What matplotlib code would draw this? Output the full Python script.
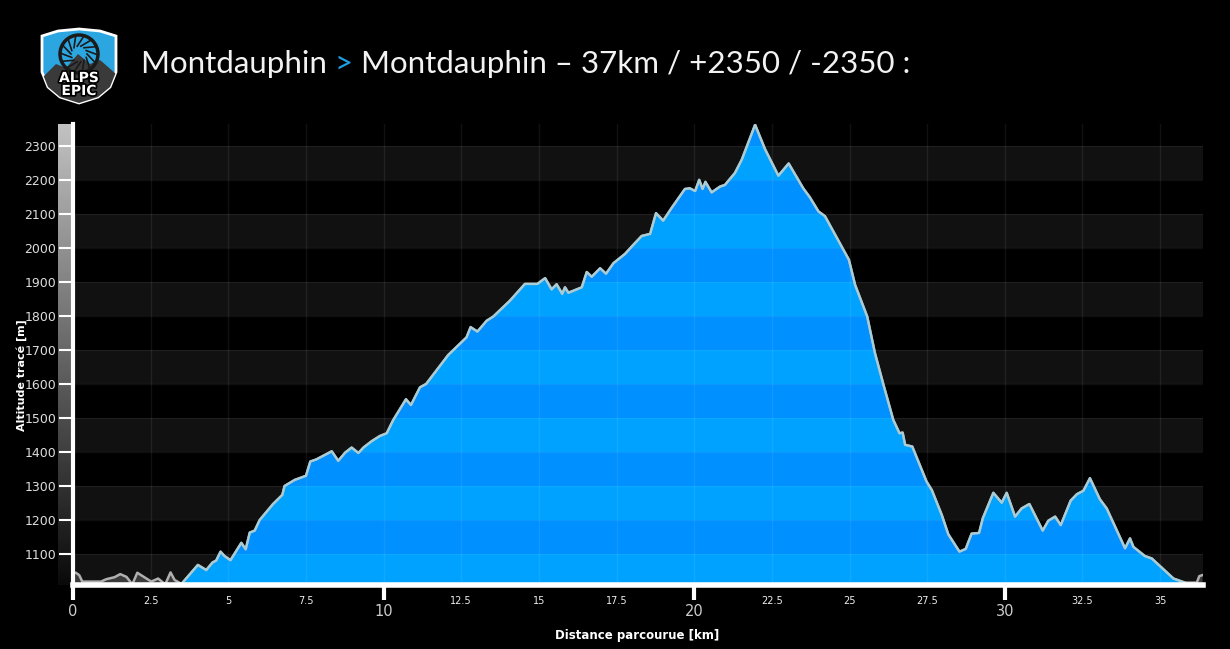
import numpy as np
import matplotlib
matplotlib.use("Agg")
import matplotlib.pyplot as plt
from matplotlib.patches import Polygon, Circle, Rectangle
import matplotlib.patheffects as pe

# profile (km, m)
dist = [0, 0.09, 0.2, 0.3, 0.9, 1.07, 1.34, 1.52, 1.72, 1.91, 2.07, 2.31, 2.52, 2.74,
        2.97, 3.14, 3.27, 3.49, 4.02, 4.29, 4.49, 4.61, 4.75, 4.88, 5.07, 5.42, 5.56,
        5.69, 5.85, 6.01, 6.44, 6.74, 6.81, 7.14, 7.5, 7.64, 7.83, 8.33, 8.54, 8.76,
        8.97, 9.19, 9.35, 9.62, 9.88, 10.1, 10.31, 10.72, 10.88, 11.17, 11.37, 12.08,
        12.67, 12.8, 13.02, 13.32, 13.53, 14.07, 14.55, 14.95, 15.2, 15.41, 15.57,
        15.75, 15.84, 15.95, 16.38, 16.54, 16.7, 16.97, 17.16, 17.4, 17.77, 18.04,
        18.31, 18.58, 18.77, 19.0, 19.27, 19.7, 19.86, 20.03, 20.16, 20.27, 20.36,
        20.56, 20.83, 20.99, 21.31, 21.53, 21.96, 22.28, 22.71, 23.04, 23.51, 23.72,
        24.0, 24.21, 24.98, 25.18, 25.57, 25.82, 26.11, 26.41, 26.61, 26.71, 26.79,
        27.02, 27.48, 27.65, 27.97, 28.18, 28.54, 28.74, 28.93, 29.17, 29.29, 29.63,
        29.9, 30.06, 30.33, 30.54, 30.79, 31.22, 31.4, 31.62, 31.8, 32.12, 32.32,
        32.53, 32.74, 33.06, 33.28, 33.87, 34.03, 34.14, 34.51, 34.73, 35.43, 35.8,
        36.18, 36.26, 36.36]
alt = [1045, 1045, 1038, 1019, 1019, 1026, 1032, 1041, 1033, 1011, 1045, 1031, 1019, 1028,
       1011, 1046, 1024, 1012, 1068, 1053, 1075, 1081, 1107, 1094, 1082, 1133, 1114,
       1163, 1169, 1200, 1247, 1274, 1300, 1318, 1330, 1372, 1378, 1402, 1374, 1398,
       1413, 1397, 1413, 1432, 1447, 1455, 1494, 1555, 1538, 1590, 1600, 1685,
       1737, 1767, 1754, 1786, 1798, 1845, 1894, 1894, 1911, 1878, 1893,
       1865, 1884, 1868, 1884, 1929, 1915, 1940, 1924, 1955, 1982, 2009,
       2035, 2041, 2102, 2080, 2117, 2173, 2175, 2167, 2200, 2173, 2194,
       2163, 2180, 2185, 2220, 2259, 2362, 2290, 2212, 2248, 2175, 2149,
       2107, 2093, 1965, 1891, 1798, 1690, 1592, 1494, 1455, 1457, 1421,
       1416, 1313, 1288, 1215, 1158, 1107, 1115, 1160, 1162, 1205, 1280,
       1251, 1280, 1210, 1234, 1247, 1169, 1198, 1210, 1185, 1257, 1276,
       1286, 1323, 1261, 1234, 1117, 1146, 1121, 1094, 1087, 1028, 1016,
       1016, 1035, 1038]

blue_start = 3.49
blue_end = 35.8

major_x = [0, 10, 20, 30]
minor_x = [2.5, 5, 7.5, 12.5, 15, 17.5, 22.5, 25, 27.5, 32.5, 35]
minor_labels = ["2.5", "5", "7.5", "12.5", "15", "17.5", "22.5", "25", "27.5", "32.5", "35"]
y_ticks = list(range(1100, 2301, 100))

title_a = "Montdauphin "
title_b = ">"
title_c = " Montdauphin \u2013 37km / +2350 / -2350 :"

d = np.array(dist)
a = np.array(alt, dtype=float)

W, H = 1230, 649
fig = plt.figure(figsize=(W / 100, H / 100), dpi=100, facecolor="black")

# gradient bar left of the y axis
gax = fig.add_axes([58 / W, (H - 585) / H, 13 / W, (585 - 124) / H])
grad = np.linspace(0.76, 0.04, 256).reshape(-1, 1)
gax.imshow(grad, cmap="gray", vmin=0, vmax=1, aspect="auto")
gax.axis("off")

ax = fig.add_axes([73 / W, (H - 585) / H, (1203 - 73) / W, (585 - 124) / H])
ax.set_facecolor("black")
ymin, ymax = 1009, 2364
ax.set_xlim(0, 36.38)
ax.set_ylim(ymin, ymax)

for lo in range(1000, 2300, 200):
    ax.axhspan(lo, lo + 100, color="#111111", zorder=0, lw=0)

blue = (d >= blue_start) & (d <= blue_end)
grey = (d <= blue_start) | (d >= blue_end)
ax.fill_between(d, 1000, a, where=grey, color="#3a3a3a", lw=0, zorder=1)
area = ax.fill_between(d[blue], 1000, a[blue], color="#0090ff", lw=0, zorder=1)

# lighter blue bands, clipped to the blue area
clip_path = area.get_paths()[0]
for lo in range(1000, 2300, 200):
    r = Rectangle((blue_start, lo), blue_end - blue_start, 100, facecolor="#00a2ff",
                  lw=0, zorder=1.5)
    ax.add_patch(r)
    r.set_clip_path(clip_path, ax.transData)

for x in np.arange(2.5, 36, 2.5):
    ax.axvline(x, color="white", alpha=0.07, lw=1, zorder=2)
for y in range(1100, 2400, 100):
    ax.axhline(y, color="white", alpha=0.06, lw=1, zorder=2)

ax.plot(d, a, color="#b0b0b0", lw=1.8, zorder=3, solid_joinstyle="round")
ax.plot(d[blue], a[blue], color="#a6cdd8", lw=1.6, zorder=3, solid_joinstyle="round")

for s in ["top", "right"]:
    ax.spines[s].set_visible(False)
ax.spines["left"].set_color("white")
ax.spines["left"].set_linewidth(3)
ax.spines["bottom"].set_color("white")
ax.spines["bottom"].set_linewidth(4)
ax.spines["left"].set_zorder(5)
ax.spines["bottom"].set_zorder(5)

ax.set_yticks(y_ticks)
ax.tick_params(axis="y", colors="white", labelcolor="#dddddd", labelsize=9,
               length=10, width=1.5, pad=2)
ax.set_xticks(major_x)
ax.set_xticks(minor_x, minor=True)
ax.set_xticklabels([str(v) for v in major_x])
ax.set_xticklabels(minor_labels, minor=True)
ax.tick_params(axis="x", which="major", colors="white", labelcolor="#cccccc",
               labelsize=10.5, length=11, width=3, pad=3)
ax.tick_params(axis="x", which="minor", length=0, labelcolor="#eeeeee",
               labelsize=7, pad=8)

fig.text(22 / W, 1 - 375 / H, "Altitude trac\u00e9 [m]", rotation=90, color="white",
         fontsize=8, fontweight="bold", ha="center", va="center")
fig.text(637 / W, 1 - 636 / H, "Distance parcourue [km]", color="white",
         fontsize=8.5, fontweight="bold", ha="center", va="center")

# title in three pieces, the ">" in blue
fam = ["Lato", "Open Sans", "DejaVu Sans"]
renderer = fig.canvas.get_renderer()
xpos = 141 / W
ty = 1 - 73 / H
for txt, col in [(title_a, "#f2f2f2"), (title_b, "#1e9fe6"), (title_c, "#f2f2f2")]:
    t = fig.text(xpos, ty, txt, color=col, fontsize=22.5, family=fam,
                 fontweight="normal", ha="left", va="baseline")
    bb = t.get_window_extent(renderer)
    xpos = bb.x1 / W

# logo shield
lax = fig.add_axes([38 / W, 1 - 106 / H, 82 / W, 80 / H])
lax.set_xlim(0, 82)
lax.set_ylim(80, 0)
lax.axis("off")
shield = [(4, 10), (20, 5), (41, 3), (62, 5), (78, 10), (78, 46), (72, 61), (60, 71),
          (41, 77), (22, 71), (10, 61), (4, 46)]
body = Polygon(shield, closed=True, facecolor="#2ba6e0", edgecolor="white", lw=2, zorder=1)
lax.add_patch(body)
mount = Polygon([(4, 52), (18, 38), (28, 42), (40, 28), (52, 38), (62, 34), (78, 48),
                 (78, 80), (4, 80)], closed=True, facecolor="#3a3a3a", lw=0, zorder=2)
lax.add_patch(mount)
mount.set_clip_path(body)
lax.add_patch(Circle((41, 28), 19, facecolor="none", edgecolor="#1a1a1a", lw=2.5, zorder=3))
for ang in np.linspace(0, 2 * np.pi, 14, endpoint=False):
    lax.plot([41 + 8 * np.cos(ang), 41 + 19 * np.cos(ang + 0.5)],
             [28 + 8 * np.sin(ang), 28 + 19 * np.sin(ang + 0.5)],
             color="#1a1a1a", lw=1.2, zorder=3)
for txt, yy in [("ALPS", 52), ("EPIC", 65)]:
    lax.text(41, yy, txt, color="white", fontsize=10, fontweight="bold", ha="center",
             va="center", zorder=4,
             path_effects=[pe.withStroke(linewidth=2.5, foreground="black")])

fig.savefig("out.png", dpi=100, facecolor="black")
